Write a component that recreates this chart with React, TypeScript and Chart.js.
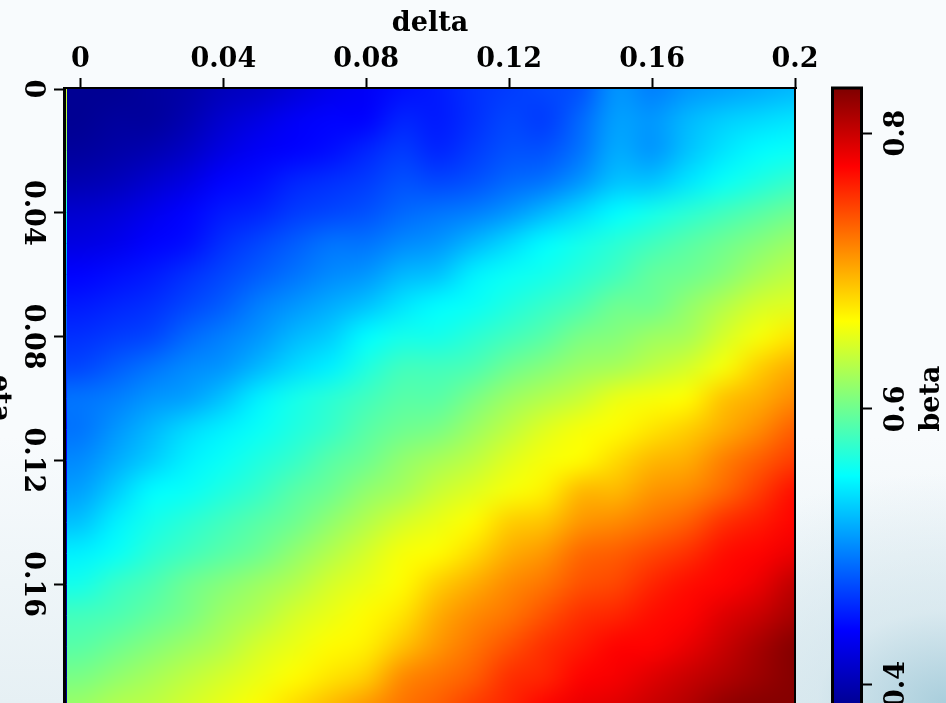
import React, { useEffect, useRef } from "react";
import { Chart, registerables } from "chart.js";

Chart.register(...registerables);

const FONT = '"DejaVu Serif"';
const FONT_SIZE = 27;
const FONT_WEIGHT = "bold";
const deltaTicks = [0, 0.04, 0.08, 0.12, 0.16, 0.2];
const etaTicks = [0, 0.04, 0.08, 0.12, 0.16];
const betaTicks = [0.4, 0.6, 0.8];
const deltaValues = [0, 0.01, 0.02, 0.03, 0.04, 0.05, 0.06, 0.07, 0.08, 0.09, 0.1, 0.11, 0.12, 0.13, 0.14, 0.15, 0.16, 0.17, 0.18, 0.19, 0.2];
const etaValues = [0, 0.01, 0.02, 0.03, 0.04, 0.05, 0.06, 0.07, 0.08, 0.09, 0.1, 0.11, 0.12, 0.13, 0.14, 0.15, 0.16, 0.17, 0.18, 0.19, 0.2];
const betaMin = 0.383;
const betaMax = 0.832;

const betaRows = [
  [.385,.385,.39,.395,.405,.41,.42,.43,.435,.445,.45,.46,.465,.47,.475,.505,.495,.505,.51,.515,.52],
  [.385,.39,.39,.40,.415,.425,.435,.44,.44,.455,.45,.46,.47,.465,.485,.51,.505,.52,.53,.535,.54],
  [.39,.395,.40,.41,.425,.435,.44,.445,.455,.465,.455,.465,.475,.475,.49,.515,.505,.525,.54,.55,.555],
  [.40,.405,.415,.425,.44,.445,.455,.46,.465,.475,.47,.475,.485,.49,.505,.525,.525,.54,.555,.565,.575],
  [.415,.42,.43,.44,.45,.455,.465,.47,.475,.485,.49,.495,.505,.52,.535,.55,.56,.57,.58,.59,.60],
  [.425,.43,.44,.445,.46,.47,.48,.49,.49,.50,.505,.52,.535,.55,.56,.57,.58,.59,.60,.61,.62],
  [.44,.445,.45,.46,.47,.48,.49,.50,.505,.52,.525,.545,.555,.56,.57,.58,.595,.60,.61,.625,.635],
  [.45,.455,.46,.47,.48,.495,.505,.515,.525,.54,.55,.555,.565,.575,.585,.60,.60,.615,.63,.645,.65],
  [.46,.465,.47,.485,.495,.505,.52,.53,.55,.56,.56,.57,.58,.59,.605,.61,.62,.625,.645,.66,.675],
  [.47,.48,.49,.50,.505,.52,.535,.545,.565,.58,.58,.585,.60,.61,.62,.625,.635,.645,.66,.685,.70],
  [.49,.495,.505,.51,.525,.545,.56,.57,.58,.59,.59,.605,.62,.63,.64,.655,.66,.665,.69,.70,.715],
  [.49,.505,.52,.535,.545,.555,.565,.575,.59,.60,.605,.62,.635,.65,.66,.665,.675,.685,.70,.715,.735],
  [.50,.515,.53,.545,.555,.565,.575,.59,.60,.615,.625,.635,.65,.66,.665,.68,.695,.70,.72,.735,.75],
  [.51,.53,.55,.555,.565,.575,.59,.60,.615,.625,.64,.65,.66,.67,.695,.695,.71,.715,.73,.75,.77],
  [.525,.545,.56,.57,.58,.59,.60,.615,.63,.645,.655,.665,.685,.69,.71,.715,.725,.735,.755,.765,.775],
  [.545,.555,.57,.58,.59,.60,.615,.63,.645,.66,.665,.68,.70,.71,.73,.735,.745,.755,.77,.775,.785],
  [.56,.575,.585,.60,.61,.62,.63,.645,.655,.665,.685,.70,.715,.725,.74,.745,.76,.77,.775,.785,.805],
  [.58,.585,.595,.605,.62,.63,.645,.655,.665,.675,.70,.715,.725,.74,.755,.76,.77,.775,.79,.80,.815],
  [.59,.60,.61,.62,.63,.645,.655,.665,.67,.69,.71,.725,.74,.755,.765,.775,.775,.785,.80,.815,.83],
  [.605,.615,.625,.635,.645,.655,.665,.675,.685,.715,.725,.735,.755,.76,.775,.78,.79,.80,.81,.82,.83],
  [.62,.63,.635,.645,.655,.665,.68,.695,.71,.725,.735,.75,.76,.775,.785,.79,.80,.81,.825,.83,.83],
];

const edgeStrip = [.64,.63,.61,.59,.56,.53,.50,.49,.48,.47,.46,.44,.43,.42,.41,.40,.39,.39,.385,.385,.385];

const jetStops: [number, number[]][] = [
  [0, [0, 0, 143]],
  [0.125, [0, 0, 255]],
  [0.375, [0, 255, 255]],
  [0.625, [255, 255, 0]],
  [0.875, [255, 0, 0]],
  [1, [128, 0, 0]],
];

function jet(v: number) {
  const t = Math.min(1, Math.max(0, (v - betaMin) / (betaMax - betaMin)));
  for (let i = 1; i < jetStops.length; i++) {
    if (t <= jetStops[i][0]) {
      const [a, ca] = jetStops[i - 1];
      const [b, cb] = jetStops[i];
      const f = (t - a) / (b - a);
      return ca.map((c, k) => Math.round(c + (cb[k] - c) * f));
    }
  }
  return jetStops[jetStops.length - 1][1];
}

const cssRgb = (c: number[]) => `rgb(${c[0]},${c[1]},${c[2]})`;

const heatmapPlugin = {
  id: "heatmap",
  beforeDatasetsDraw(chart: any) {
    const { ctx, chartArea, scales } = chart;
    const pts = chart.data.datasets[0].data as { x: number; y: number; v: number }[];
    const cols = deltaValues.length;
    const rows = etaValues.length;
    const img = document.createElement("canvas");
    img.width = cols;
    img.height = rows;
    const ic = img.getContext("2d")!;
    const id = ic.createImageData(cols, rows);
    pts.forEach((p, i) => {
      const c = jet(p.v);
      id.data[i * 4] = c[0];
      id.data[i * 4 + 1] = c[1];
      id.data[i * 4 + 2] = c[2];
      id.data[i * 4 + 3] = 255;
    });
    ic.putImageData(id, 0, 0);
    const stepX = deltaValues[1] - deltaValues[0];
    const stepY = etaValues[1] - etaValues[0];
    const x0 = scales.x.getPixelForValue(deltaValues[0] - stepX / 2);
    const x1 = scales.x.getPixelForValue(deltaValues[cols - 1] + stepX / 2);
    const y0 = scales.y.getPixelForValue(etaValues[0] - stepY / 2);
    const y1 = scales.y.getPixelForValue(etaValues[rows - 1] + stepY / 2);
    ctx.save();
    ctx.beginPath();
    ctx.rect(chartArea.left, chartArea.top, chartArea.right - chartArea.left, chartArea.bottom - chartArea.top);
    ctx.clip();
    ctx.imageSmoothingEnabled = true;
    ctx.imageSmoothingQuality = "high";
    ctx.drawImage(img, 0, 0, 1, rows, chartArea.left, y0, x0 - chartArea.left + 2, y1 - y0);
    ctx.drawImage(img, x0, y0, x1 - x0, y1 - y0);
    ctx.restore();
    // thin coloured edge line along the left side
    etaValues.forEach((e, i) => {
      if (i === etaValues.length - 1) return;
      const a = scales.y.getPixelForValue(e);
      const b = scales.y.getPixelForValue(etaValues[i + 1]);
      const g = ctx.createLinearGradient(0, a, 0, b);
      g.addColorStop(0, cssRgb(jet(edgeStrip[i])));
      g.addColorStop(1, cssRgb(jet(edgeStrip[i + 1])));
      ctx.fillStyle = g;
      ctx.fillRect(chartArea.left + 1, a, 1, b - a);
    });
  },
  afterDraw(chart: any) {
    const { ctx, chartArea: a, scales } = chart;
    ctx.save();
    ctx.fillStyle = "#000";
    ctx.fillRect(a.left - 2, a.top - 2, a.right - a.left + 4, 2);
    ctx.fillRect(a.left - 2, a.top - 2, 3, a.bottom - a.top + 2);
    ctx.fillRect(a.right - 1, a.top - 2, 2, a.bottom - a.top + 2);
    ctx.fillRect(a.left, a.bottom - 1, a.right - a.left, 2);
    ctx.font = `${FONT_WEIGHT} ${FONT_SIZE}px ${FONT}`;
    ctx.textAlign = "center";
    ctx.textBaseline = "alphabetic";
    ctx.translate(-8, (scales.y.getPixelForValue(0) + scales.y.getPixelForValue(0.2)) / 2);
    ctx.rotate(Math.PI / 2);
    ctx.fillText("eta", 0, 0);
    ctx.restore();
  },
};

const colorbarPlugin = {
  id: "colorbarFrame",
  afterDraw(chart: any) {
    const { ctx, chartArea: a, scales } = chart;
    ctx.save();
    ctx.strokeStyle = "#000";
    ctx.lineWidth = 3;
    ctx.strokeRect(a.left - 0.5, a.top - 1, a.right - a.left + 1, a.bottom - a.top + 1);
    ctx.fillStyle = "#000";
    ctx.font = `${FONT_WEIGHT} ${FONT_SIZE}px ${FONT}`;
    ctx.textAlign = "center";
    ctx.textBaseline = "alphabetic";
    ctx.translate(159, (scales.y.top + scales.y.bottom) / 2);
    ctx.rotate(-Math.PI / 2);
    ctx.fillText("beta", 0, 0);
    ctx.restore();
  },
};

export default function App() {
  const mainRef = useRef<HTMLCanvasElement>(null);
  const barRef = useRef<HTMLCanvasElement>(null);

  useEffect(() => {
    const tickFont = { family: FONT, size: FONT_SIZE, weight: FONT_WEIGHT };
    const points: { x: number; y: number; v: number }[] = [];
    etaValues.forEach((y, r) => deltaValues.forEach((x, c) => points.push({ x, y, v: betaRows[r][c] })));

    const main = new Chart(mainRef.current!, {
      type: "scatter",
      data: { datasets: [{ label: "beta", data: points as any, pointRadius: 0, pointHoverRadius: 0 }] },
      plugins: [heatmapPlugin],
      options: {
        animation: false,
        responsive: false,
        events: [],
        layout: { padding: { left: 0, top: 0, right: 151, bottom: 32 } },
        plugins: { legend: { display: false }, tooltip: { enabled: false } },
        scales: {
          x: {
            type: "linear",
            position: "top",
            min: -0.0043,
            max: 0.2,
            afterBuildTicks: (s: any) => { s.ticks = deltaTicks.map((value) => ({ value })); },
            afterFit: (s: any) => { s.height = 89; },
            title: { display: true, text: "delta", color: "#000", font: tickFont, padding: { top: 8, bottom: 0 } },
            ticks: { color: "#000", font: tickFont, padding: 2, maxRotation: 0, autoSkip: false, callback: (v: any) => String(v) },
            grid: { drawOnChartArea: false, drawTicks: true, tickLength: 11, tickWidth: 2, tickColor: "#000" },
            border: { display: false },
          },
          y: {
            type: "linear",
            position: "left",
            reverse: true,
            min: 0,
            max: 0.2,
            afterBuildTicks: (s: any) => { s.ticks = etaTicks.map((value) => ({ value })); },
            afterFit: (s: any) => { s.width = 65; },
            ticks: { color: "#000", font: tickFont, padding: -11, minRotation: -90, maxRotation: -90, crossAlign: "center", autoSkip: false, callback: (v: any) => String(v) },
            grid: { drawOnChartArea: false, drawTicks: true, tickLength: 11, tickWidth: 2, tickColor: "#000" },
            border: { display: false },
          },
        },
      } as any,
    });

    const bar = new Chart(barRef.current!, {
      type: "bar",
      data: {
        labels: ["beta"],
        datasets: [{
          label: "beta",
          data: [[betaMin, betaMax]] as any,
          barPercentage: 1,
          categoryPercentage: 1,
          backgroundColor: (c: any) => {
            const { chartArea, ctx } = c.chart;
            if (!chartArea) return "#000";
            const g = ctx.createLinearGradient(0, chartArea.bottom, 0, chartArea.top);
            jetStops.forEach(([t, col]) => g.addColorStop(t, cssRgb(col)));
            return g;
          },
        }],
      },
      plugins: [colorbarPlugin],
      options: {
        animation: false,
        responsive: false,
        events: [],
        layout: { padding: { left: 53, top: 89, right: 0, bottom: 32 } },
        plugins: { legend: { display: false }, tooltip: { enabled: false } },
        scales: {
          x: { display: false },
          y: {
            type: "linear",
            position: "right",
            min: betaMin,
            max: betaMax,
            afterBuildTicks: (s: any) => { s.ticks = betaTicks.map((value) => ({ value })); },
            afterFit: (s: any) => { s.width = 85; },
            ticks: { color: "#000", font: tickFont, padding: 1, minRotation: 90, maxRotation: 90, crossAlign: "center", autoSkip: false, callback: (v: any) => String(v) },
            grid: { drawOnChartArea: false, drawTicks: true, tickLength: 11, tickWidth: 2, tickColor: "#000" },
            border: { display: false },
          },
        },
      } as any,
    });

    return () => { main.destroy(); bar.destroy(); };
  }, []);

  return (
    <div
      style={{
        position: "fixed",
        left: 0,
        top: 0,
        width: 946,
        height: 703,
        overflow: "hidden",
        background:
          "radial-gradient(ellipse 320px 230px at 100% 100%, #a9cedc 0%, rgba(205,226,234,0.6) 40%, rgba(240,246,249,0) 100%), linear-gradient(180deg, #f8fbfd 0%, #f8fbfd 62%, #e6f0f4 100%)",
      }}
    >
      <canvas ref={mainRef} width={946} height={740} style={{ position: "absolute", left: 0, top: 0 }} />
      <canvas ref={barRef} width={166} height={740} style={{ position: "absolute", left: 780, top: 0 }} />
    </div>
  );
}
